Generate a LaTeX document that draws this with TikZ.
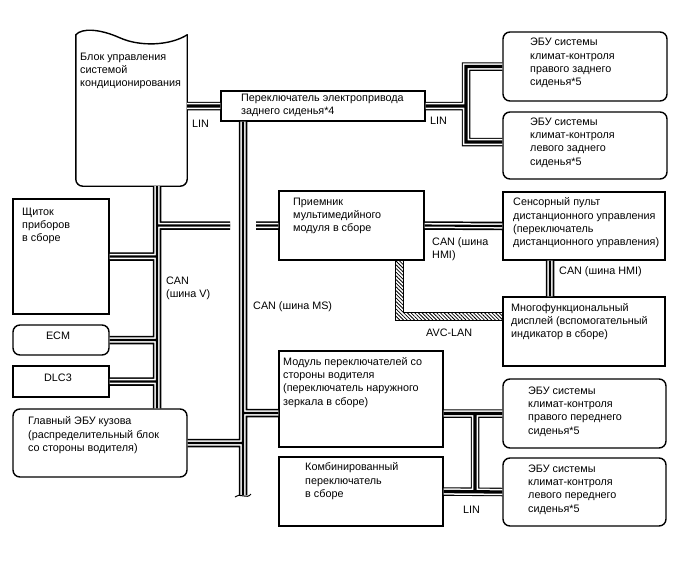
\documentclass[tikz,border=0pt]{standalone}
\usepackage{fontspec}
\setmainfont{Liberation Sans}
\usetikzlibrary{fit, calc, patterns.meta}

\tikzset{
 box/.style={draw, line width=1.4pt, inner sep=0pt},
 rbox/.style={box, rounded corners=7pt},
 txt/.style={anchor=north west, yshift=9pt, inner sep=0pt, align=left,
   font=\fontsize{10.8}{13.3}\selectfont, execute at begin node={\rule{0pt}{9pt}}},
 ctxt/.style={txt, anchor=north},
 canA/.style={line width=8.5pt},
 canB/.style={line width=5.1pt, white},
 canC/.style={line width=2.1pt},
 linA/.style={line width=8.5pt},
 linB/.style={line width=6.3pt, white},
 linC/.style={line width=3.3pt},
}

\begin{document}
\begin{tikzpicture}[x=1pt, y=-1pt]
 \path[fill=white, use as bounding box] (0,0) rectangle (688,560);

 \coordinate (vbus) at (157,0);
 \coordinate (msbus) at (243,0);
 \coordinate (msend) at (243,495);
 \coordinate (hmi) at (550,0);
 \coordinate (linr) at (466,0);
 \coordinate (lbus) at (475,0);
 \coordinate (avc) at (399,316);

 %blocks:
 \node[fit={(76,35) (187,186)}, inner sep=0pt] (acu) {};
 \draw[box, rounded corners=7pt, line cap=round] (acu.north west) -- (acu.south west) -- (acu.south east) -- (acu.north east);
 \draw[box, line cap=round] (acu.north west) .. controls +(6,-7) and ($(acu.north west)+(24,-6)$) .. ($(acu.north west)+(44,3)$)
   .. controls ($(acu.north west)+(64,12)$) and ($(acu.north west)+(94,11)$) .. (acu.north east);
 \node[box, fit={(221,91) (425,121)}] (sws) {};
 \node[rbox, fit={(503,32) (667,101)}] (rr) {};
 \node[rbox, fit={(503,112) (667,179)}] (rl) {};
 \node[box, fit={(13,199) (109,314)}] (dash) {};
 \node[rbox, fit={(13,325) (109,355)}] (ecm) {};
 \node[box, fit={(13,366) (109,397)}] (dlc) {};
 \node[rbox, fit={(13,409) (187,477)}] (body) {};
 \node[box, fit={(279,191) (424,260)}] (rcv) {};
 \node[box, fit={(503,192) (665,260)}] (tp) {};
 \node[box, fit={(503,297) (665,366)}] (disp) {};
 \node[box, fit={(279,351) (443,447)}] (swm) {};
 \node[box, fit={(279,457) (443,526)}] (cmb) {};
 \node[rbox, fit={(503,379) (666,448)}] (rf) {};
 \node[rbox, fit={(503,458) (666,526)}] (lf) {};
 \coordinate (rlin) at ($(rl.west)+(0,-3.5)$);

 %texts
 \node[txt] (acu-t) at (80,61.5) {Блок управления\\системой\\кондиционирования};
 \node[txt] (sws-t) at (241,102.5) {Переключатель электропривода\\заднего сиденья*4};
 \node[txt] (rr-t) at (530,47) {ЭБУ системы\\климат-контроля\\правого заднего\\сиденья*5};
 \node[txt] (rl-t) at (530,126.5) {ЭБУ системы\\климат-контроля\\левого заднего\\сиденья*5};
 \node[txt] (dash-t) at (22,216.5) {Щиток\\приборов\\в сборе};
 \node[ctxt] (ecm-t) at (58,339) {ECM};
 \node[ctxt] (dlc-t) at (58,381) {DLC3};
 \node[txt] (body-t) at (28,425.5) {Главный ЭБУ кузова\\(распределительный блок\\со стороны водителя)};
 \node[txt] (rcv-t) at (293,206.5) {Приемник\\мультимедийного\\модуля в сборе};
 \node[txt] (tp-t) at (513,206.5) {Сенсорный пульт\\дистанционного управления\\(переключатель\\дистанционного управления)};
 \node[txt] (disp-t) at (511,312) {Многофункциональный\\дисплей (вспомогательный\\индикатор в сборе)};
 \node[txt] (swm-t) at (283,366) {Модуль переключателей со\\стороны водителя\\(переключатель наружного\\зеркала в сборе)};
 \node[txt] (cmb-t) at (305,471.5) {Комбинированный\\переключатель\\в сборе};
 \node[txt] (rf-t) at (528,395.5) {ЭБУ системы\\климат-контроля\\правого переднего\\сиденья*5};
 \node[txt] (lf-t) at (528,473.5) {ЭБУ системы\\климат-контроля\\левого переднего\\сиденья*5};

 %bus labels
 \node[txt] (canv) at (166,285.5) {CAN\\(шина V)};
 \node[txt] (canms) at (253,309.5) {CAN (шина MS)};
 \node[txt] (hmi1) at (432,246.5) {CAN (шина\\HMI)};
 \node[txt] (hmi2) at (559,274.5) {CAN (шина HMI)};
 \node[txt] (avcl) at (426,336) {AVC-LAN};
 \node[txt] (lin1) at (192,127) {LIN};
 \node[txt] (lin2) at (430,124) {LIN};
 \node[txt] (lin3) at (463,513) {LIN};

 %CAN lines
 \foreach \lay in {canA,canB,canC}
  \draw[\lay] (vbus |- acu.south) -- (vbus |- body.north)
   (dash.east) -- (dash.east -| vbus)
   (ecm.east) -- (ecm.east -| vbus)
   (dlc.east) -- (dlc.east -| vbus)
   (rcv.west -| vbus) -- ($(rcv.west -| msbus)+(-13,0)$)
   ($(rcv.west -| msbus)+(13,0)$) -- (rcv.west)
   (msbus |- sws.south) -- (msend)
   (body.east) -- (body.east -| msbus)
   (swm.west |- 0,413) -- (msbus |- 0,413)
   (rcv.east) -- (tp.west)
   (hmi |- tp.south) -- (hmi |- disp.north);
 \draw[line width=1pt] ($(msend)+(-8,2)$) .. controls ($(msend)+(-4,-3)$) and ($(msend)+(4,5)$) .. ($(msend)+(8,-1)$);

 %LIN lines
 \foreach \lay in {linA,linB,linC}
  \draw[\lay] (acu.east |- sws.west) -- (sws.west)
   (sws.east) -- (sws.east -| linr)
   (rr.west) -- (rr.west -| linr) -- (linr |- rlin) -- (rlin)
   (swm.east |- rf.west) -- (rf.west)
   (cmb.east) -- (lf.west)
   (lbus |- rf.west) -- (lbus |- lf.west);

 %AVC-LAN
 \draw[line width=0.8pt, pattern={Lines[angle=-45, distance=2.6pt, line width=0.8pt]}]
  ($(rcv.south -| avc)+(-4,0)$) -- ($(avc)+(-4,4)$) -- ($(avc -| disp.west)+(0,4)$)
  -- ($(avc -| disp.west)+(0,-4)$) -- ($(avc)+(4,-4)$) -- ($(rcv.south -| avc)+(4,0)$);
\end{tikzpicture}
\end{document}
